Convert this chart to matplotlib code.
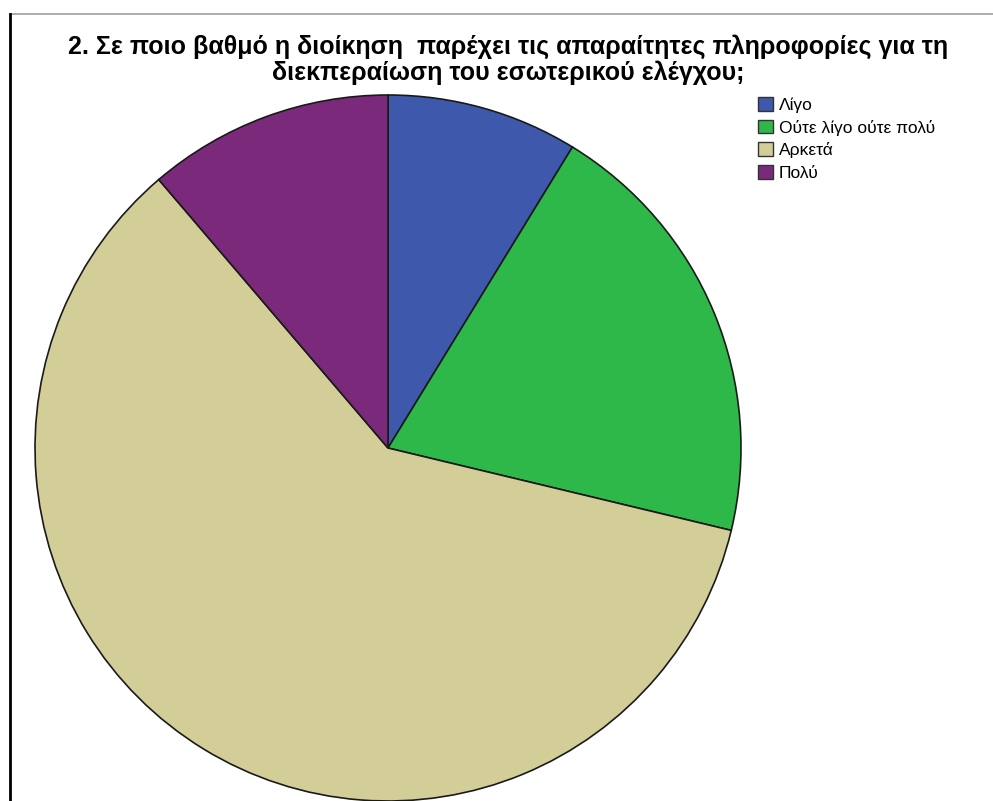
import matplotlib.pyplot as plt
from matplotlib.lines import Line2D

plt.rcParams['font.family'] = ['Liberation Sans', 'DejaVu Sans']

labels = ['Λίγο', 'Ούτε λίγο ούτε πολύ', 'Αρκετά', 'Πολύ']
counts = [7, 16, 48, 9]
colors = ['#3e58ab', '#2fb84a', '#d3ce98', '#7b2a7b']

W, H = 993, 801
fig = plt.figure(figsize=(W / 100, H / 100), dpi=100)

# pie centre at (388, 448) px, radius 353 px
cx, cy, r = 388, 448, 353
ax = fig.add_axes([(cx - r) / W, (H - cy - r) / H, 2 * r / W, 2 * r / H])
wedges, _ = ax.pie(counts, colors=colors, startangle=90, counterclock=False,
                   radius=1.0, wedgeprops=dict(edgecolor='#1a1a1a', linewidth=1.2))
ax.set_xlim(-1, 1)
ax.set_ylim(-1, 1)
ax.set_aspect('equal')
ax.axis('off')

fig.text(508 / W, 1 - 47 / H, '2. Σε ποιο βαθμό η διοίκηση  παρέχει τις απαραίτητες πληροφορίες για τη',
         ha='center', va='center', fontsize=18, fontweight='bold')
fig.text(508 / W, 1 - 73 / H, 'διεκπεραίωση του εσωτερικού ελέγχου;',
         ha='center', va='center', fontsize=18, fontweight='bold')

leg = fig.legend(wedges, labels, loc='upper left', bbox_to_anchor=(758 / W, 1 - 97 / H),
                 frameon=False, fontsize=12.5, handlelength=0.85, handleheight=0.85,
                 handletextpad=0.35, labelspacing=0.38, borderpad=0, borderaxespad=0)
for h in leg.legend_handles:
    h.set_edgecolor('#333333')
    h.set_linewidth(1.0)

# frame lines along the top and left
fig.add_artist(Line2D([10 / W, 1], [1 - 14 / H, 1 - 14 / H], color='#a0a0a0', lw=1.2,
                      transform=fig.transFigure))
fig.add_artist(Line2D([10 / W, 10 / W], [0, 1 - 14 / H], color='black', lw=2,
                      transform=fig.transFigure))

fig.savefig('out.png', dpi=100)
